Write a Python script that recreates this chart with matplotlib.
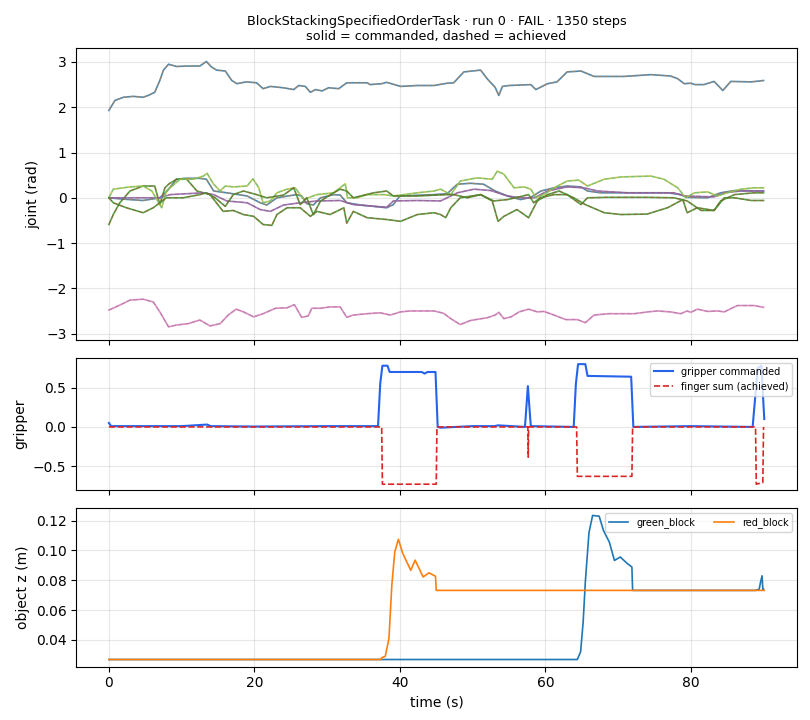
import matplotlib
matplotlib.use("Agg")
import matplotlib.pyplot as plt
from matplotlib.ticker import MultipleLocator

# ---------------- joint traces (rad) ----------------
j0_t = [0, 2.0, 4.7, 7.0, 8.0, 9.3, 10.5, 12.5, 13.4, 14.4, 16.2, 19.0, 20.8, 21.7, 23.1, 25.8, 26.5, 27.2, 28.1, 29.1, 30.9, 31.8, 32.7, 34.6, 38.2, 39.1, 40.0, 44.7, 46.5, 47.9, 49.7, 51.5, 53.1, 54.8, 56.6, 58.0, 59.4, 61.2, 63.0, 64.9, 65.8, 67.6, 72.2, 76.8, 78.6, 79.5, 82.3, 84.1, 86.0, 90.0]
j0_v = [0.0, -0.03, -0.06, 0.0, 0.15, 0.41, 0.43, 0.43, 0.41, 0.15, 0.11, 0.04, -0.11, -0.16, 0.0, 0.07, 0.04, -0.13, -0.16, 0.0, 0.07, 0.06, -0.11, -0.16, -0.22, -0.15, 0.04, 0.07, 0.09, 0.30, 0.32, 0.30, 0.15, 0.04, -0.04, 0.01, 0.15, 0.22, 0.26, 0.24, 0.15, 0.11, 0.11, 0.11, 0.07, 0.01, 0.0, 0.11, 0.16, 0.15]

j1_t = [0, 0.6, 1.5, 2.9, 4.7, 6.3, 7.0, 7.7, 8.2, 9.3, 10.7, 12.1, 13.9, 15.7, 17.1, 18.5, 19.9, 21.2, 22.4, 23.1, 24.5, 26.3, 27.7, 28.6, 30.4, 31.3, 32.3, 32.7, 33.6, 35.5, 38.2, 40.1, 42.4, 44.7, 45.6, 46.3, 47.0, 48.3, 51.1, 52.7, 53.5, 54.3, 56.1, 57.7, 58.9, 60.3, 61.9, 63.9, 65.5, 68.1, 70.4, 74.0, 76.8, 78.9, 79.5, 80.9, 83.2, 84.1, 86.0, 88.7, 90.0]
j1_v = [-0.59, -0.37, -0.11, 0.15, 0.26, 0.26, -0.15, 0.22, 0.30, 0.41, 0.41, 0.15, 0.07, -0.30, -0.28, -0.37, -0.41, -0.59, -0.61, -0.37, -0.22, -0.22, -0.41, -0.30, -0.37, -0.30, -0.22, -0.56, -0.30, -0.44, -0.48, -0.52, -0.37, -0.33, -0.37, -0.44, -0.22, 0.0, 0.07, -0.07, -0.52, -0.41, -0.26, -0.44, -0.07, 0.07, 0.15, 0.0, -0.15, -0.33, -0.37, -0.36, -0.22, -0.04, -0.33, -0.22, -0.28, -0.07, 0.07, 0.11, 0.11]

j2_t = [0, 3.3, 7.0, 8.4, 10.7, 13.0, 14.4, 16.2, 19.0, 20.8, 22.2, 24.0, 26.3, 28.6, 31.8, 33.6, 38.2, 39.1, 42.4, 45.6, 47.9, 50.2, 52.5, 54.8, 56.6, 58.5, 60.3, 63.0, 65.3, 67.2, 71.3, 77.7, 79.1, 83.2, 84.6, 86.9, 90.0]
j2_v = [0.0, 0.0, 0.0, 0.07, 0.09, 0.11, 0.07, -0.07, -0.11, -0.26, -0.30, -0.16, -0.11, -0.07, -0.06, -0.15, -0.21, -0.07, -0.06, -0.07, 0.11, 0.19, 0.16, 0.04, 0.0, 0.0, 0.15, 0.24, 0.22, 0.15, 0.11, 0.11, 0.04, 0.02, 0.11, 0.15, 0.15]

j3_t = [0, 1.5, 2.9, 4.7, 6.1, 7.0, 8.2, 9.3, 10.9, 12.5, 13.9, 15.3, 16.4, 17.5, 18.5, 19.9, 21.2, 22.9, 24.5, 25.5, 26.5, 27.4, 27.9, 29.1, 30.4, 31.8, 32.7, 33.6, 35.5, 37.3, 38.7, 40.1, 41.4, 44.7, 46.0, 47.0, 48.3, 49.7, 52.0, 53.1, 53.6, 54.3, 55.3, 56.4, 57.7, 58.9, 59.8, 61.2, 62.8, 64.4, 65.5, 66.7, 68.7, 72.2, 74.1, 75.4, 77.2, 78.6, 79.5, 80.0, 80.9, 82.3, 83.7, 84.6, 86.4, 88.7, 90.0]
j3_v = [-2.48, -2.37, -2.26, -2.24, -2.30, -2.52, -2.85, -2.81, -2.78, -2.70, -2.83, -2.78, -2.59, -2.46, -2.52, -2.63, -2.56, -2.44, -2.43, -2.36, -2.64, -2.61, -2.44, -2.44, -2.41, -2.41, -2.64, -2.59, -2.56, -2.54, -2.59, -2.52, -2.50, -2.50, -2.55, -2.67, -2.80, -2.71, -2.65, -2.59, -2.53, -2.67, -2.63, -2.52, -2.46, -2.52, -2.51, -2.59, -2.69, -2.69, -2.76, -2.59, -2.56, -2.56, -2.52, -2.50, -2.52, -2.56, -2.50, -2.53, -2.46, -2.51, -2.50, -2.52, -2.38, -2.38, -2.42]

j4_t = [0, 0.6, 2.9, 4.7, 5.9, 7.25, 7.9, 9.8, 11.6, 13.0, 13.5, 14.4, 15.3, 16.0, 17.1, 19.0, 19.8, 20.6, 21.2, 22.2, 23.1, 24.5, 25.6, 26.8, 27.4, 28.6, 30.9, 32.5, 32.8, 34.1, 35.5, 37.8, 39.1, 42.4, 44.7, 45.6, 47.0, 48.3, 50.6, 52.7, 53.4, 54.3, 55.7, 57.1, 58.0, 58.7, 59.8, 61.2, 63.0, 64.6, 65.8, 68.1, 70.4, 74.5, 76.3, 78.2, 79.3, 80.5, 82.3, 83.7, 85.0, 86.9, 88.7, 90.0]
j4_v = [0.0, 0.19, 0.24, 0.26, 0.15, -0.22, 0.15, 0.41, 0.41, 0.48, 0.54, 0.30, 0.15, 0.26, 0.24, 0.26, 0.42, 0.22, -0.11, -0.07, 0.11, 0.19, 0.22, -0.04, 0.0, 0.07, 0.11, 0.31, 0.0, 0.0, 0.07, 0.07, 0.04, 0.11, 0.15, 0.19, 0.07, 0.37, 0.44, 0.41, 0.59, 0.52, 0.22, 0.24, 0.19, 0.0, 0.07, 0.22, 0.37, 0.39, 0.26, 0.41, 0.46, 0.48, 0.41, 0.22, 0.0, 0.11, 0.13, 0.04, 0.11, 0.19, 0.22, 0.22]

j5_t = [0, 0.83, 2.0, 3.35, 4.7, 5.4, 6.3, 7.0, 7.5, 8.2, 9.3, 10.7, 12.5, 13.4, 14.1, 14.8, 16.0, 16.9, 17.6, 18.9, 20.3, 21.2, 22.2, 24.0, 25.4, 26.1, 27.0, 27.7, 28.4, 29.3, 30.2, 31.6, 32.7, 35.5, 35.9, 37.5, 38.2, 40.1, 42.4, 44.7, 46.5, 47.4, 48.8, 51.1, 52.0, 53.1, 53.6, 54.1, 55.0, 58.0, 58.7, 59.3, 60.3, 61.6, 63.0, 64.9, 65.8, 66.7, 70.8, 74.5, 77.2, 78.2, 79.1, 80.0, 80.6, 81.8, 83.2, 84.4, 85.5, 88.3, 90.0]
j5_v = [1.93, 2.15, 2.22, 2.24, 2.22, 2.26, 2.33, 2.59, 2.82, 2.95, 2.90, 2.91, 2.91, 3.01, 2.89, 2.82, 2.80, 2.59, 2.52, 2.56, 2.54, 2.41, 2.46, 2.43, 2.39, 2.48, 2.46, 2.33, 2.39, 2.36, 2.43, 2.41, 2.54, 2.54, 2.50, 2.52, 2.55, 2.46, 2.48, 2.48, 2.53, 2.54, 2.78, 2.82, 2.63, 2.44, 2.26, 2.46, 2.48, 2.50, 2.39, 2.44, 2.52, 2.56, 2.78, 2.80, 2.74, 2.68, 2.68, 2.72, 2.69, 2.63, 2.52, 2.53, 2.50, 2.50, 2.57, 2.37, 2.57, 2.56, 2.59]

j6_t = [0, 0.6, 2.4, 4.7, 6.1, 7.0, 7.9, 10.2, 12.5, 13.4, 14.6, 16.0, 17.1, 18.5, 20.3, 21.7, 24.0, 25.4, 26.3, 27.2, 28.1, 29.1, 30.9, 31.8, 32.7, 33.6, 36.4, 38.2, 39.1, 42.4, 46.5, 47.4, 49.3, 51.1, 52.9, 54.8, 57.7, 58.4, 59.3, 61.2, 63.0, 64.9, 65.8, 68.5, 74.0, 77.7, 79.5, 81.4, 83.2, 84.6, 86.0, 88.3, 90.0]
j6_v = [0.0, -0.11, -0.22, -0.33, -0.22, -0.11, 0.0, 0.0, 0.07, 0.11, 0.0, -0.19, 0.07, 0.15, 0.07, 0.0, 0.06, 0.22, -0.15, 0.0, -0.37, -0.07, 0.11, 0.19, 0.15, 0.0, 0.11, 0.15, 0.04, 0.04, 0.07, 0.07, 0.0, 0.07, -0.07, -0.04, 0.07, -0.11, 0.0, 0.07, 0.07, -0.15, 0.0, 0.01, 0.01, 0.0, -0.07, -0.28, -0.28, 0.0, 0.0, -0.06, -0.06]

joint_times = [j0_t, j1_t, j2_t, j3_t, j4_t, j5_t, j6_t]
joint_cmd = [j0_v, j1_v, j2_v, j3_v, j4_v, j5_v, j6_v]
joint_ach = [j0_v, j1_v, j2_v, j3_v, j4_v, j5_v, j6_v]  # achieved tracks commanded

# ---------------- gripper ----------------
grip_t = [0, 0.3, 10, 13.5, 14.0, 20, 30, 37.0, 37.3, 37.6, 38.3, 38.6, 43.0, 43.4, 43.8, 44.9, 45.2, 45.6, 50, 53, 53.5, 57.2, 57.6, 58.0, 63.9, 64.2, 64.5, 65.5, 65.8, 71.8, 72.1, 80, 88.5, 89.2, 89.7, 90.1]
grip_cmd = [0.05, 0.01, 0.01, 0.03, 0.01, 0.005, 0.01, 0.01, 0.55, 0.78, 0.78, 0.70, 0.70, 0.68, 0.70, 0.70, 0.0, -0.01, 0.01, 0.01, 0.02, 0.0, 0.52, 0.01, 0.0, 0.55, 0.80, 0.80, 0.65, 0.64, 0.0, 0.01, 0.0, 0.75, 0.78, 0.10]
finger_t = [0, 37.5, 37.6, 45.0, 45.1, 57.6, 57.65, 57.7, 64.3, 64.4, 71.9, 72.0, 88.9, 89.0, 89.9, 90.0]
finger_sum = [0, 0, -0.73, -0.73, 0, 0, -0.385, 0, 0, -0.63, -0.63, 0, 0, -0.73, -0.71, 0.0]

# ---------------- object heights ----------------
red_t = [0, 37.4, 37.5, 38.0, 38.5, 38.9, 39.3, 39.8, 40.4, 41.5, 42.1, 43.2, 44.0, 44.9, 45.0, 90.1]
red_z = [0.0268, 0.0268, 0.028, 0.029, 0.041, 0.077, 0.099, 0.1075, 0.098, 0.0867, 0.0935, 0.0822, 0.085, 0.0827, 0.0732, 0.0732]
green_t = [0, 64.4, 64.85, 65.2, 65.5, 66.0, 66.5, 67.4, 68.0, 68.8, 69.5, 70.3, 71.3, 71.9, 72.0, 88.9, 89.4, 89.6, 89.8, 89.9, 90.0]
green_z = [0.0268, 0.0268, 0.032, 0.052, 0.079, 0.112, 0.1235, 0.123, 0.1133, 0.1056, 0.0933, 0.0956, 0.0911, 0.0889, 0.0732, 0.0732, 0.074, 0.079, 0.083, 0.074, 0.074]

title = "BlockStackingSpecifiedOrderTask · run 0 · FAIL · 1350 steps\nsolid = commanded, dashed = achieved"

fig, axes = plt.subplots(3, 1, figsize=(8.1, 7.2), dpi=100, sharex=True,
                         gridspec_kw={"height_ratios": [2.21, 1.0, 1.2]})
fig.subplots_adjust(left=0.094, right=0.984, top=0.933, bottom=0.074, hspace=0.093)
ax0, ax1, ax2 = axes

for j in range(7):
    ax0.plot(joint_times[j], joint_cmd[j], color=f"C{(2*j) % 10}", lw=1.2, alpha=0.85)
    ax0.plot(joint_times[j], joint_ach[j], color=f"C{(2*j+1) % 10}", lw=0.9, alpha=0.45, ls="--")
ax0.set_ylabel("joint (rad)")
ax0.set_title(title, fontsize=9.2)
ax0.grid(alpha=0.3)

ax1.plot(grip_t, grip_cmd, color="#2563eb", lw=1.5, label="gripper commanded")
ax1.plot(finger_t, finger_sum, color="#dc2626", lw=1.2, ls="--", label="finger sum (achieved)")
ax1.set_ylabel("gripper")
ax1.grid(alpha=0.3)
ax1.legend(loc="upper right", fontsize=7)

ax2.plot(green_t, green_z, color="C0", lw=1.2, label="green_block")
ax2.plot(red_t, red_z, color="C1", lw=1.2, label="red_block")
ax2.set_ylabel("object z (m)")
ax2.set_xlabel("time (s)")
ax2.yaxis.set_major_locator(MultipleLocator(0.02))
ax2.grid(alpha=0.3)
ax2.legend(loc="upper right", fontsize=7, ncol=2)

fig.savefig("out.png", dpi=100)
